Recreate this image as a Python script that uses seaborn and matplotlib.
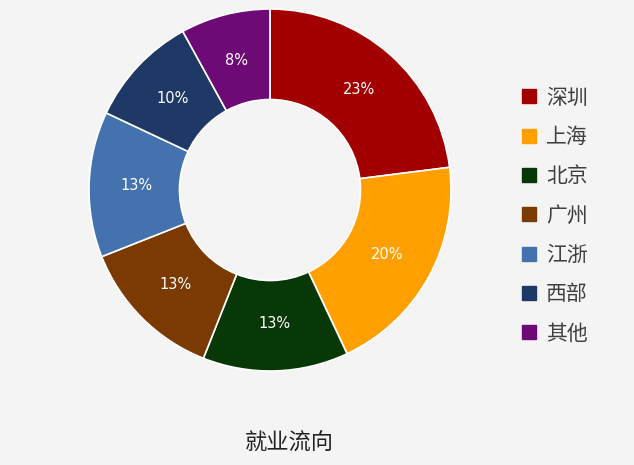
import matplotlib
matplotlib.use("Agg")
import matplotlib.pyplot as plt
import seaborn as sns
from matplotlib.lines import Line2D

categories = ["深圳", "上海", "北京", "广州", "江浙", "西部", "其他"]
values = [23, 20, 13, 13, 13, 10, 8]
colors = ["#A20000", "#FFA000", "#083808", "#7A3A02", "#4472AE", "#1E3966", "#6E0A75"]
title = "就业流向"

sns.set_theme(style="white")
plt.rcParams["font.family"] = ["Noto Sans CJK SC", "DejaVu Sans"]
bg = "#F4F4F4"

fig = plt.figure(figsize=(6.34, 4.65), dpi=100, facecolor=bg)
ax = fig.add_axes([89 / 634, 94 / 465, 362 / 634, 362 / 465])
ax.set_facecolor(bg)
palette = sns.color_palette(colors)

wedges, texts, autotexts = ax.pie(
    values, colors=palette, startangle=90, counterclock=False,
    autopct=lambda p: f"{p:.0f}%", pctdistance=0.74, radius=1.0,
    wedgeprops=dict(width=0.5, edgecolor="white", linewidth=1.2),
    textprops=dict(color="white", fontsize=10.5, family=["DejaVu Sans"]),
)
ax.set_xlim(-1.0, 1.0)
ax.set_ylim(-1.0, 1.0)
ax.set_aspect("equal")
ax.axis("off")

handles = [Line2D([], [], marker="s", linestyle="none", markersize=9.5,
                  markerfacecolor=c, markeredgecolor=c) for c in palette]
fig.legend(handles, categories, loc="upper left", bbox_to_anchor=(500 / 634, 1 - 68 / 465),
           frameon=False, fontsize=15, labelspacing=0.83, handletextpad=0.3,
           handlelength=1.0, labelcolor="#404040")

fig.text(289 / 634, 1 - 443 / 465, title, ha="center", va="center", fontsize=16, color="#222222")

fig.savefig("out.png", dpi=100, facecolor=bg)
